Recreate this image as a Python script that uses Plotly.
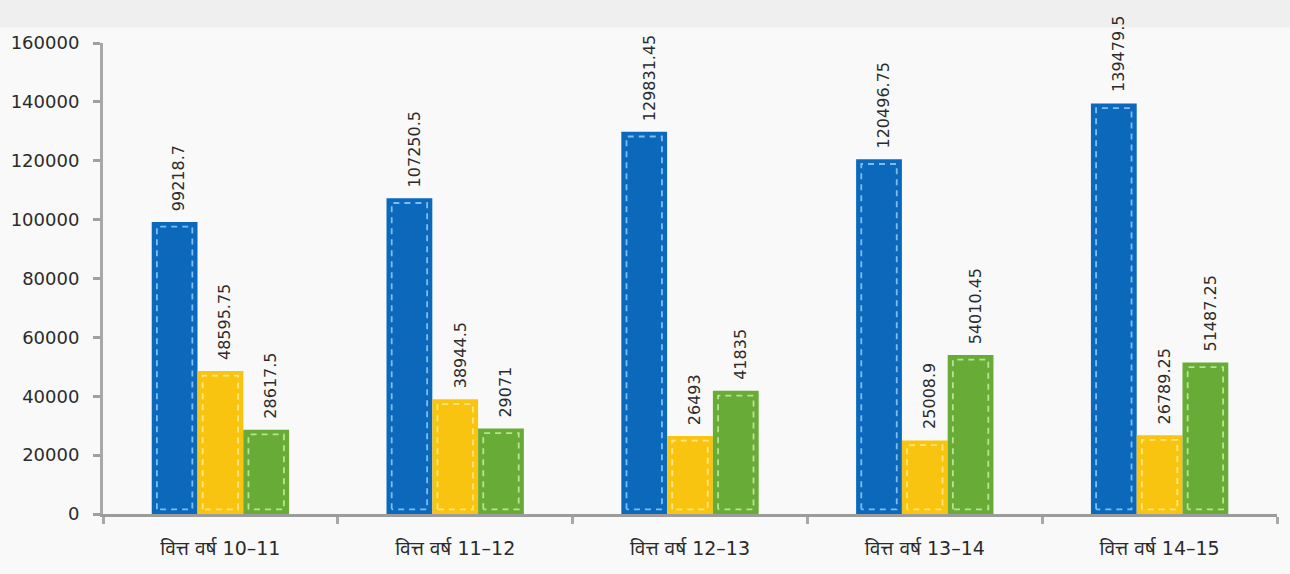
import plotly.graph_objects as go

# Financial-year categories and the three series per year
years = ["वित्त वर्ष 10–11", "वित्त वर्ष 11–12", "वित्त वर्ष 12–13",
         "वित्त वर्ष 13–14", "वित्त वर्ष 14–15"]
series_a = [99218.7, 107250.5, 129831.45, 120496.75, 139479.5]
series_b = [48595.75, 38944.5, 26493, 25008.9, 26789.25]
series_c = [28617.5, 29071, 41835, 54010.45, 51487.25]
y_ticks = [0, 20000, 40000, 60000, 80000, 100000, 120000, 140000, 160000]

colors = ["#0b68bb", "#f9c410", "#68ab37"]
stitch = ["rgba(130,195,245,0.95)", "rgba(255,232,140,0.95)", "rgba(190,230,150,0.95)"]

BAR_W = 0.195
OFFSETS = [-0.2925, -0.0975, 0.0975]
INSET_X = 0.022
INSET_Y = 1600

FONT = "'DejaVu Sans', 'Noto Sans', sans-serif"

fig = go.Figure()
xs = list(range(len(years)))
labels = []

for vals, col, st, off in zip([series_a, series_b, series_c], colors, stitch, OFFSETS):
    fig.add_trace(go.Bar(
        x=xs, y=vals, width=BAR_W, offset=off,
        marker=dict(color=col, line=dict(width=0)),
        showlegend=False, hoverinfo="skip",
    ))
    # dashed stitch outline inside each bar
    sx, sy = [], []
    for xi, v in zip(xs, vals):
        x0 = xi + off + INSET_X
        x1 = xi + off + BAR_W - INSET_X
        sx += [x0, x0, x1, x1, x0, None]
        sy += [INSET_Y, v - INSET_Y, v - INSET_Y, INSET_Y, INSET_Y, None]
        # value label standing upright above the bar
        labels.append(dict(
            x=xi + off + BAR_W / 2 + 0.02, y=v, xref="x", yref="y",
            text=str(v), showarrow=False, textangle=-90,
            xanchor="center", yanchor="bottom", yshift=9,
            font=dict(size=16, color="#2b2b2b", family=FONT),
        ))
    fig.add_trace(go.Scatter(
        x=sx, y=sy, mode="lines",
        line=dict(color=st, width=1.8, dash="6px,5px"),
        showlegend=False, hoverinfo="skip",
    ))

fig.update_layout(
    width=1290, height=574,
    margin=dict(l=103, r=13, t=43, b=60),
    paper_bgcolor="#efefef",
    plot_bgcolor="rgba(0,0,0,0)",
    barmode="overlay",
    font=dict(family=FONT, color="#2b2b2b"),
    annotations=labels,
    shapes=[dict(type="rect", xref="paper", yref="paper",
                 x0=-0.1, x1=1.02, y0=-0.2, y1=1.033,
                 fillcolor="#f9f9f9", line=dict(width=0), layer="below")],
)

fig.update_xaxes(
    range=[-0.5, 4.5], tickvals=xs, ticktext=years, ticks="",
    showline=True, linecolor="#9c9c9c", linewidth=3,
    showgrid=False, zeroline=False,
    tickfont=dict(size=19, color="#2b2b2b"), ticklabelstandoff=15,
    minor=dict(tickmode="linear", tick0=-0.5, dtick=1, ticks="outside",
               ticklen=7, tickwidth=3, tickcolor="#a8a8a8"),
)
fig.update_yaxes(
    range=[0, 160000], tickvals=y_ticks, ticktext=[str(t) for t in y_ticks],
    ticks="outside", ticklen=7, tickwidth=3, tickcolor="#a0a0a0",
    showline=True, linecolor="#a8a8a8", linewidth=3,
    showgrid=False, zeroline=False,
    tickfont=dict(size=18, color="#2b2b2b"), ticklabelstandoff=10,
)

fig.write_html("out.html")
